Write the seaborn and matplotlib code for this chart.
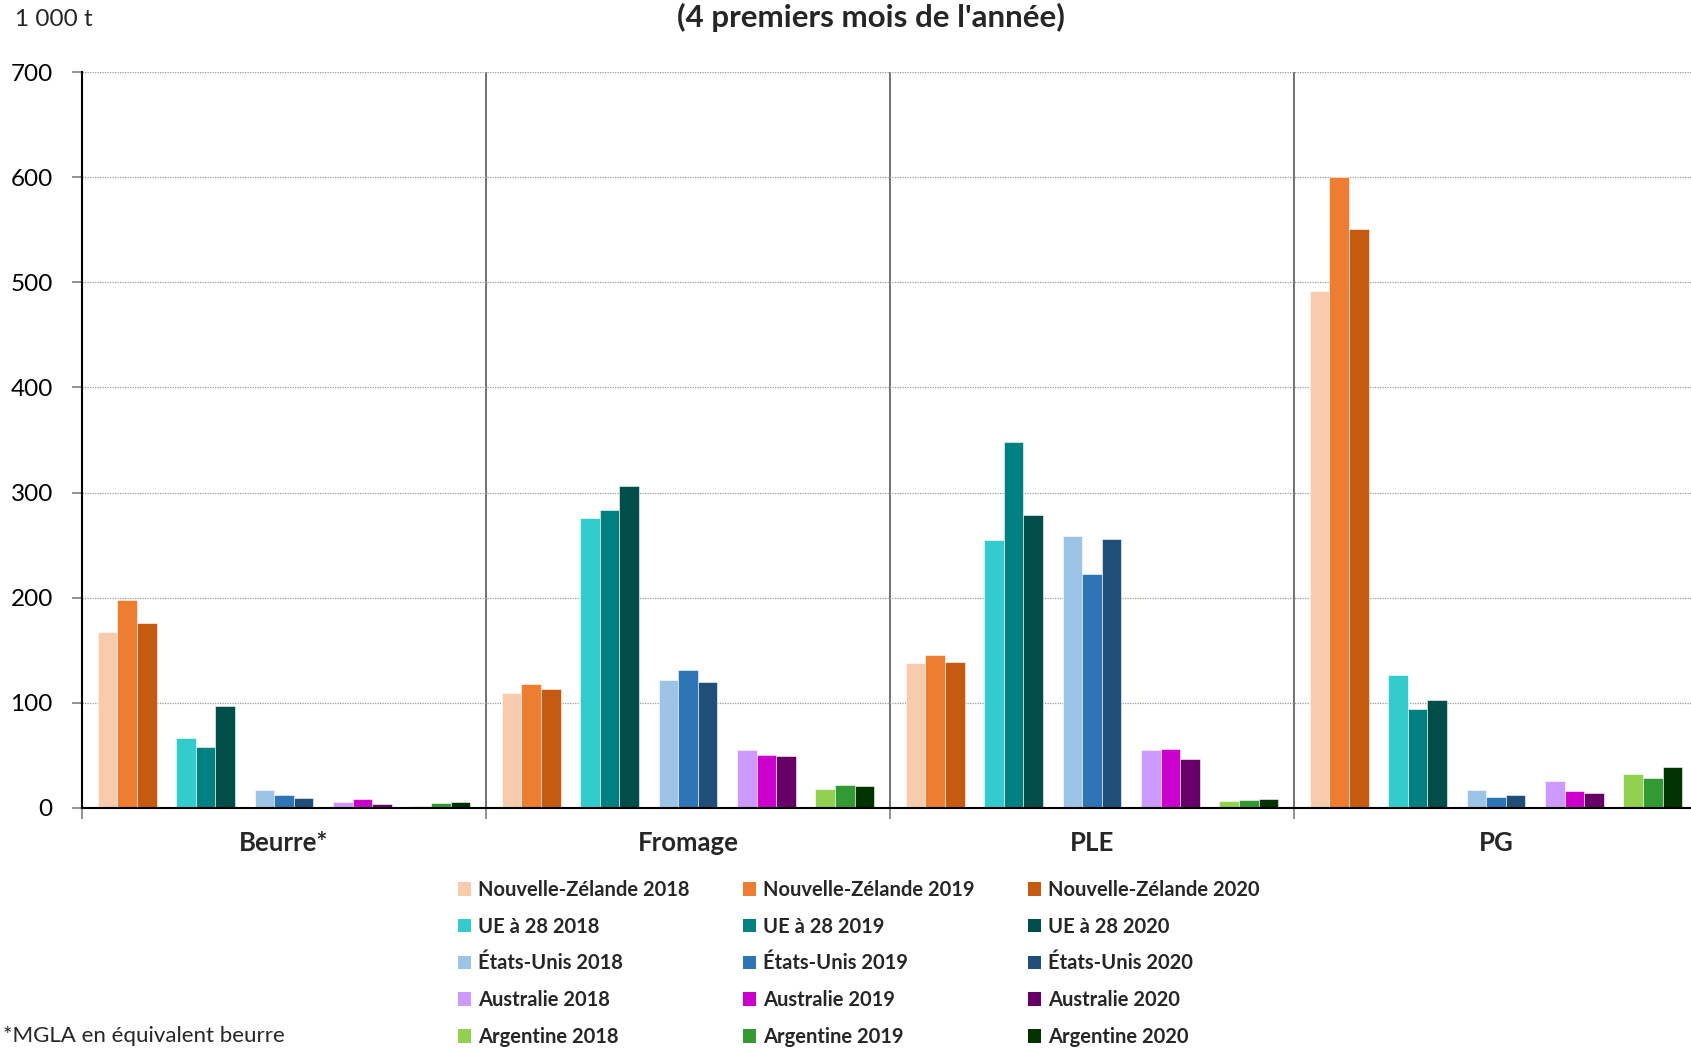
import numpy as np
import pandas as pd
import matplotlib
matplotlib.use("Agg")
import matplotlib.pyplot as plt
from matplotlib.patches import Patch
import seaborn as sns

products = ["Beurre*", "Fromage", "PLE", "PG"]
countries = ["Nouvelle-Zélande", "UE à 28", "États-Unis", "Australie", "Argentine"]
years = ["2018", "2019", "2020"]

# values per series, in product order: Beurre*, Fromage, PLE, PG (1 000 t)
nz_2018 = [167.5, 109.5, 137.5, 491.5]
nz_2019 = [197.5, 118.0, 145.0, 600.0]
nz_2020 = [175.5, 113.0, 138.5, 550.5]
ue_2018 = [66.0, 276.0, 255.0, 126.5]
ue_2019 = [57.5, 283.0, 348.0, 94.0]
ue_2020 = [96.5, 306.5, 279.0, 102.5]
us_2018 = [17.0, 122.0, 258.5, 17.0]
us_2019 = [12.5, 131.0, 222.0, 10.0]
us_2020 = [9.5, 120.0, 256.0, 12.5]
au_2018 = [5.0, 54.5, 54.5, 25.0]
au_2019 = [8.5, 50.5, 56.0, 15.5]
au_2020 = [3.5, 49.5, 46.5, 14.0]
ar_2018 = [2.0, 17.5, 6.0, 32.5]
ar_2019 = [4.5, 21.5, 7.0, 28.0]
ar_2020 = [5.5, 20.5, 8.0, 39.0]

series_values = {
    ("Nouvelle-Zélande", "2018"): nz_2018, ("Nouvelle-Zélande", "2019"): nz_2019, ("Nouvelle-Zélande", "2020"): nz_2020,
    ("UE à 28", "2018"): ue_2018, ("UE à 28", "2019"): ue_2019, ("UE à 28", "2020"): ue_2020,
    ("États-Unis", "2018"): us_2018, ("États-Unis", "2019"): us_2019, ("États-Unis", "2020"): us_2020,
    ("Australie", "2018"): au_2018, ("Australie", "2019"): au_2019, ("Australie", "2020"): au_2020,
    ("Argentine", "2018"): ar_2018, ("Argentine", "2019"): ar_2019, ("Argentine", "2020"): ar_2020,
}

colors = {
    "Nouvelle-Zélande": ["#F8CBAD", "#ED7D31", "#C55A11"],
    "UE à 28": ["#33CCCC", "#008080", "#004D4A"],
    "États-Unis": ["#9DC3E6", "#2E75B6", "#1F4E79"],
    "Australie": ["#CC99FF", "#CC00CC", "#660066"],
    "Argentine": ["#92D050", "#339933", "#003300"],
}

# layout parameters
GROUP_STEP = 5.15      # distance between product groups (in country-slot units)
BAR = 0.25             # bar width (in slot units)
MARGIN = 0.575         # group edge offset from first cluster centre

rows = []
palette = {}
for ci, c in enumerate(countries):
    for yi, y in enumerate(years):
        name = f"{c} {y}"
        palette[name] = colors[c][yi]
        for pi, p in enumerate(products):
            rows.append({
                "series": name,
                "product": p,
                "value": series_values[(c, y)][pi],
                "pos": pi * GROUP_STEP + ci + (yi - 1) * BAR,
            })
df = pd.DataFrame(rows)

sns.set_theme(style="white")
plt.rcParams["font.family"] = ["Lato", "DejaVu Sans"]

W, H = 1691, 1048
fig = plt.figure(figsize=(W / 100, H / 100), dpi=100)
ax = fig.add_axes([82 / W, 1 - 807.7 / H, (1698 - 82) / W, (807.7 - 72.3) / H])

sns.barplot(data=df, x="pos", y="value", hue="series", hue_order=list(palette.keys()),
            palette=palette, native_scale=True, dodge=False, width=1.0,
            errorbar=None, saturation=1, legend=False, ax=ax,
            edgecolor="white", linewidth=0.4)

x_left = -MARGIN
x_right = 3 * GROUP_STEP + 4 + MARGIN
ax.set_xlim(x_left, x_right)
ax.set_ylim(0, 700)

# y axis
ax.set_yticks(np.arange(0, 701, 100))
ax.tick_params(axis="y", which="major", direction="out", length=7, width=1.2,
               color="#808080", pad=14, labelsize=17.5, labelcolor="black", left=True)
ax.yaxis.grid(True, linestyle=(0, (1, 1)), color="#9a9a9a", linewidth=0.9)
ax.xaxis.grid(False)
ax.set_axisbelow(True)

# x axis: boundaries as major ticks, group names as minor ticks
bounds = [x_left + g * GROUP_STEP for g in range(4)]
centers = [g * GROUP_STEP + 2 for g in range(4)]
ax.set_xticks(bounds)
ax.set_xticklabels([])
ax.set_xticks(centers, minor=True)
ax.set_xticklabels(products, minor=True, fontsize=18.5, fontweight="bold")
ax.tick_params(axis="x", which="major", direction="out", length=8, width=1.2,
               color="#808080", bottom=True)
ax.tick_params(axis="x", which="minor", length=0, pad=17)
ax.set_xlabel("")
ax.set_ylabel("")

for b in bounds[1:]:
    ax.axvline(b, ymin=0, ymax=1, color="#5a5a5a", linewidth=1.2, zorder=0.5)

for side in ["top", "right"]:
    ax.spines[side].set_visible(False)
ax.spines["left"].set_color("black")
ax.spines["left"].set_linewidth(1.5)
ax.spines["bottom"].set_color("black")
ax.spines["bottom"].set_linewidth(1.5)

# texts
fig.text(15 / W, 1 - 20 / H, "1 000 t", fontsize=17.5, ha="left", va="center")
fig.text(871 / W, 1 - 17 / H, "(4 premiers mois de l'année)", fontsize=22.5,
         fontweight="bold", ha="center", va="center")
fig.text(3 / W, 1 - 1036 / H, "*MGLA en équivalent beurre", fontsize=16,
         ha="left", va="center")

# legend (row-wise order: 3 years across, countries down)
handles = []
labels = []
for y_i, y in enumerate(years):
    for c in countries:
        handles.append(Patch(facecolor=colors[c][y_i], edgecolor="none"))
        labels.append(f"{c} {y}")
leg = fig.legend(handles, labels, ncol=3, loc="upper left",
                 bbox_to_anchor=(458 / W, 1 - 880 / H), frameon=False,
                 prop={"size": 14.5, "weight": "bold"},
                 handlelength=0.65, handleheight=0.65, handletextpad=0.35,
                 columnspacing=2.65, labelspacing=0.83, borderpad=0, borderaxespad=0)

fig.savefig("out.png", dpi=100)
